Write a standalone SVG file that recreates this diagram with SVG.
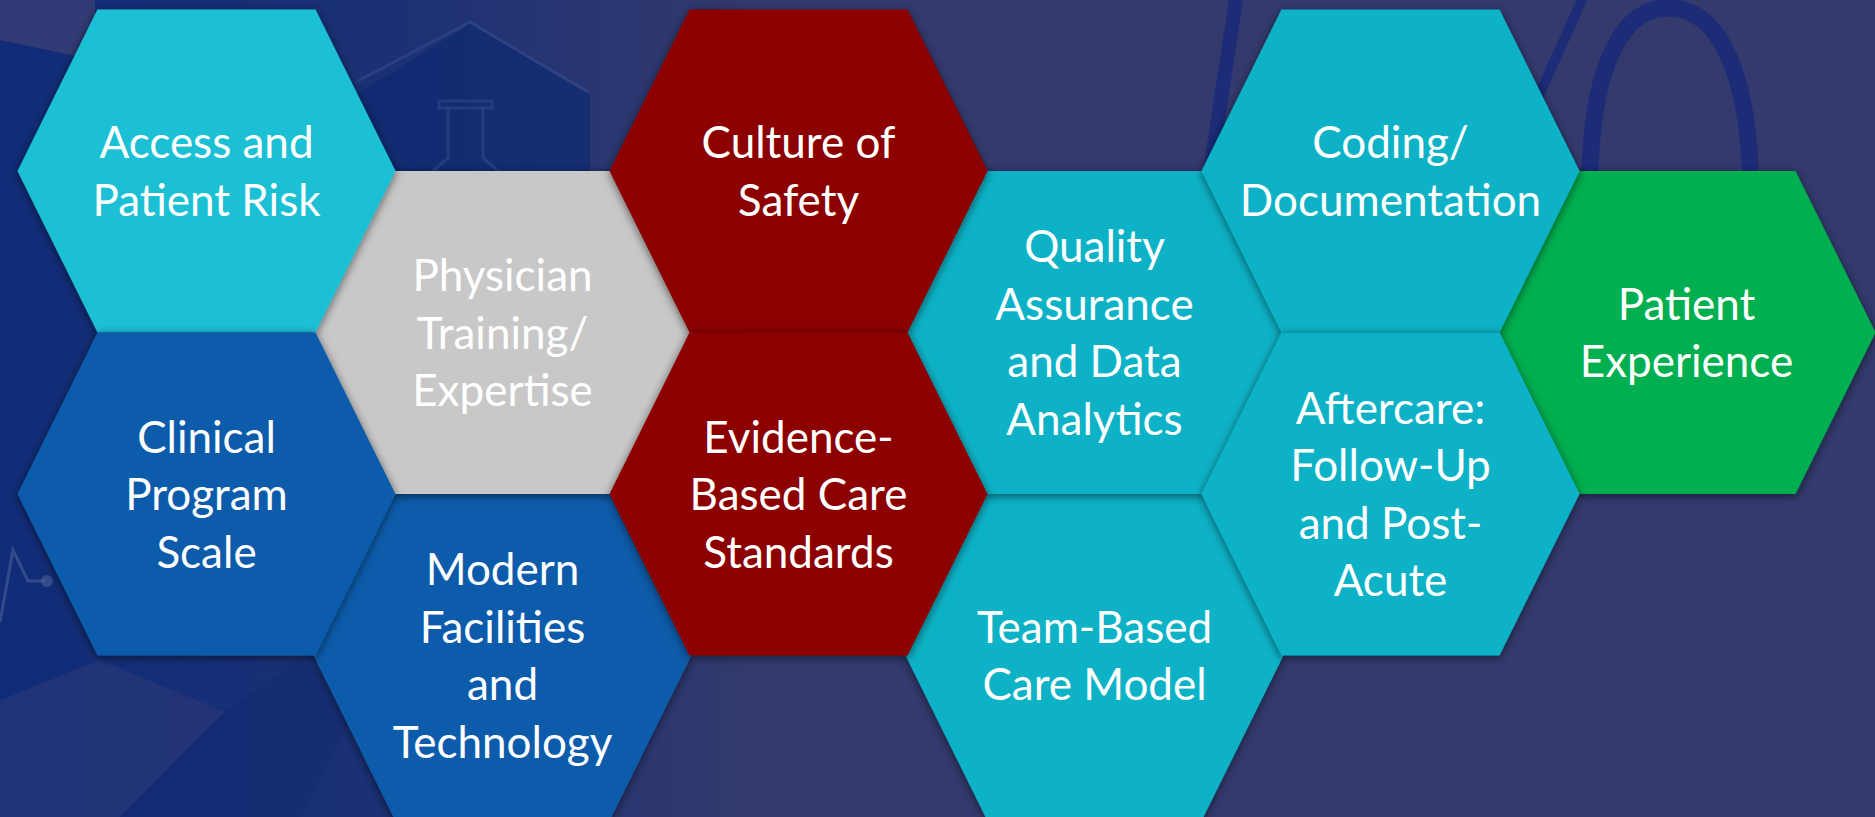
<svg xmlns="http://www.w3.org/2000/svg" xmlns:xlink="http://www.w3.org/1999/xlink" width="1875" height="817" viewBox="0 0 1875 817">
  <defs>
    <style>
      .lbl { font-family: Lato, "Liberation Sans", "DejaVu Sans", sans-serif; font-size: 44px; fill: #FFFFFF; text-anchor: middle; }
      .hex { filter: url(#shade); }
      .light-cyan { fill: #1EC0D4; }
      .blue { fill: #0F5CAB; }
      .grey { fill: #C8C8C8; }
      .red { fill: #8C0000; }
      .cyan { fill: #0BB2C6; }
      .green { fill: #00AF50; }
      .bgline { fill: none; stroke: #3A5194; stroke-width: 3; opacity: 0.45; }
      .tube { fill: none; stroke: #13267A; stroke-linecap: round; opacity: 0.7; }
    </style>
    <!-- shared honeycomb cell, centred on its own origin -->
    <polygon id="hex" points="-189,0 -109,-161.5 109,-161.5 189,0 109,161.5 -109,161.5"/>
    <filter id="shade" x="-10%" y="-10%" width="120%" height="120%">
      <feDropShadow dx="0" dy="2" stdDeviation="5" flood-color="#000000" flood-opacity="0.55"/>
    </filter>
    <linearGradient id="leftGlow" x1="0" y1="0" x2="1" y2="0">
      <stop offset="0" stop-color="#0A2A7A" stop-opacity="0.85"/>
      <stop offset="0.55" stop-color="#0A2A7A" stop-opacity="0.55"/>
      <stop offset="1" stop-color="#0A2A7A" stop-opacity="0"/>
    </linearGradient>
  </defs>

  <!-- backdrop -->
  <g id="backdrop">
    <rect width="1875" height="817" fill="#343A6E"/>
    <rect width="760" height="817" fill="url(#leftGlow)"/>
    <polygon points="0,0 95,0 95,60 0,40" fill="#3A3F74" opacity="0.8"/>
    <polygon points="356,95 470,24 590,95 590,330 356,330" fill="#0A2872" opacity="0.6"/>
    <polyline class="bgline" points="356,82 470,22 588,92"/>
    <!-- flask outline -->
    <path class="bgline" d="M439,101 H492 V108 H439 Z M448,108 V158 L428,175 M483,108 V158 L503,175"/>
    <!-- lower-left facets -->
    <polygon points="0,700 100,660 225,712 120,817 0,817" fill="#2E3A78" opacity="0.5"/>
    <polygon points="225,712 300,660 360,700 300,817 120,817" fill="#122A72" opacity="0.45"/>
    <!-- pulse trace -->
    <polyline points="0,622 13,550 28,581 45,581" fill="none" stroke="#55679E" stroke-width="3" opacity="0.5"/>
    <circle cx="47" cy="581" r="6" fill="#55679E" opacity="0.5"/>
    <!-- stethoscope -->
    <path class="tube" stroke-width="14" d="M1236,0 L1210,172"/>
    <path class="tube" stroke-width="10" stroke="#0E3484" d="M1582,0 L1530,115"/>
    <path class="tube" stroke-width="17" d="M1590,172 C1592,90 1612,10 1666,8 C1722,6 1746,80 1750,165"/>
  </g>

  <g id="connectors"/>

  <!-- bottom row -->
  <g id="modern-facilities">
    <use xlink:href="#hex" x="502.5" y="655.5" class="hex blue"/>
    <text class="lbl" x="502.5" y="585.25"><tspan x="502.5">Modern</tspan><tspan x="502.5" dy="57.5">Facilities</tspan><tspan x="502.5" dy="57.5">and</tspan><tspan x="502.5" dy="57.5">Technology</tspan></text>
  </g>
  <g id="team-based-care">
    <use xlink:href="#hex" x="1094.5" y="655.5" class="hex cyan"/>
    <text class="lbl" x="1094.5" y="642.75"><tspan x="1094.5">Team-Based</tspan><tspan x="1094.5" dy="57.5">Care Model</tspan></text>
  </g>

  <!-- middle row -->
  <g id="physician-training">
    <use xlink:href="#hex" x="502.5" y="332.5" class="hex grey"/>
    <text class="lbl" x="502.5" y="291"><tspan x="502.5">Physician</tspan><tspan x="502.5" dy="57.5">Training/</tspan><tspan x="502.5" dy="57.5">Expertise</tspan></text>
  </g>
  <g id="quality-assurance">
    <use xlink:href="#hex" x="1094.5" y="332.5" class="hex cyan"/>
    <text class="lbl" x="1094.5" y="262.25"><tspan x="1094.5">Quality</tspan><tspan x="1094.5" dy="57.5">Assurance</tspan><tspan x="1094.5" dy="57.5">and Data</tspan><tspan x="1094.5" dy="57.5">Analytics</tspan></text>
  </g>
  <g id="patient-experience">
    <use xlink:href="#hex" x="1686.5" y="332.5" class="hex green"/>
    <text class="lbl" x="1686.5" y="319.75"><tspan x="1686.5">Patient</tspan><tspan x="1686.5" dy="57.5">Experience</tspan></text>
  </g>

  <!-- top and third rows -->
  <g id="access-patient-risk">
    <use xlink:href="#hex" x="206.5" y="171" class="hex light-cyan"/>
    <text class="lbl" x="206.5" y="158.25"><tspan x="206.5">Access and</tspan><tspan x="206.5" dy="57.5">Patient Risk</tspan></text>
  </g>
  <g id="clinical-program-scale">
    <use xlink:href="#hex" x="206.5" y="494" class="hex blue"/>
    <text class="lbl" x="206.5" y="452.5"><tspan x="206.5">Clinical</tspan><tspan x="206.5" dy="57.5">Program</tspan><tspan x="206.5" dy="57.5">Scale</tspan></text>
  </g>
  <g id="culture-of-safety">
    <use xlink:href="#hex" x="798.5" y="171" class="hex red"/>
    <text class="lbl" x="798.5" y="158.25"><tspan x="798.5">Culture of</tspan><tspan x="798.5" dy="57.5">Safety</tspan></text>
  </g>
  <g id="evidence-based-care">
    <use xlink:href="#hex" x="798.5" y="494" class="hex red"/>
    <text class="lbl" x="798.5" y="452.5"><tspan x="798.5">Evidence-</tspan><tspan x="798.5" dy="57.5">Based Care</tspan><tspan x="798.5" dy="57.5">Standards</tspan></text>
  </g>
  <g id="coding-documentation">
    <use xlink:href="#hex" x="1390.5" y="171" class="hex cyan"/>
    <text class="lbl" x="1390.5" y="158.25"><tspan x="1390.5">Coding/</tspan><tspan x="1390.5" dy="57.5">Documentation</tspan></text>
  </g>
  <g id="aftercare">
    <use xlink:href="#hex" x="1390.5" y="494" class="hex cyan"/>
    <text class="lbl" x="1390.5" y="423.75"><tspan x="1390.5">Aftercare:</tspan><tspan x="1390.5" dy="57.5">Follow-Up</tspan><tspan x="1390.5" dy="57.5">and Post-</tspan><tspan x="1390.5" dy="57.5">Acute</tspan></text>
  </g>
</svg>
